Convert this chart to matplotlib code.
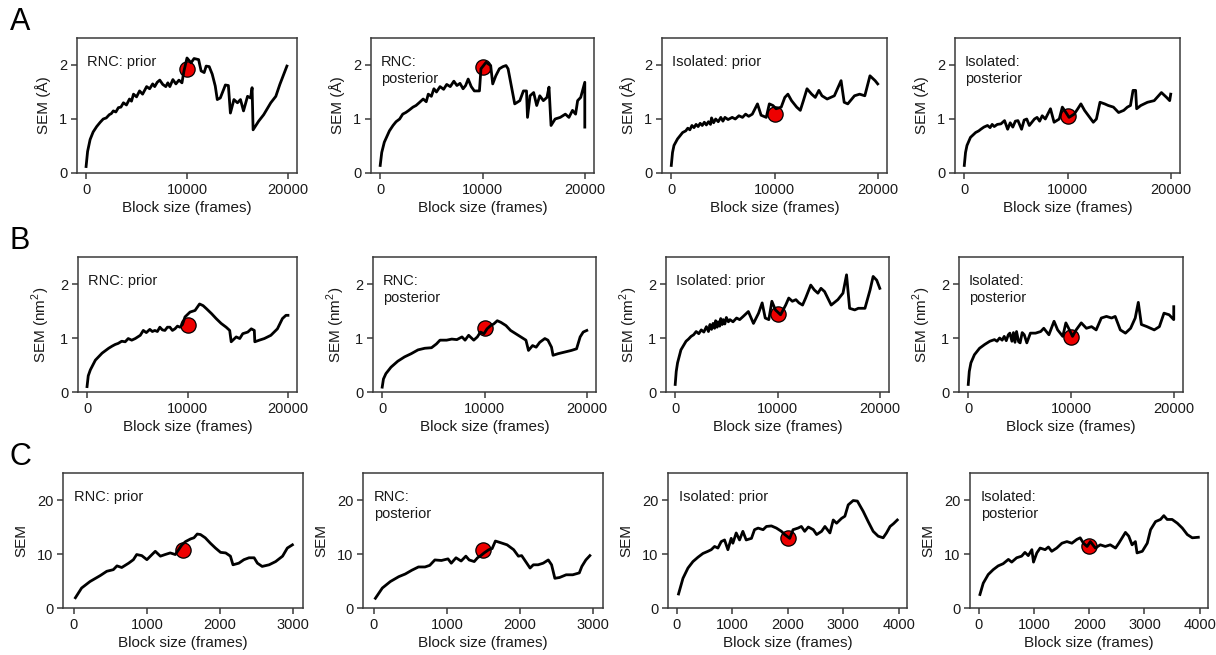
import matplotlib
matplotlib.use('Agg')
import matplotlib.pyplot as plt

plt.rcParams['font.family'] = ['Liberation Sans', 'DejaVu Sans']
plt.rcParams['mathtext.fontset'] = 'custom'
plt.rcParams['mathtext.rm'] = 'Liberation Sans'

# ---------------------------------------------------------------
# data (block size, SEM)
a1_x = [0, 150, 400, 700, 1050, 1400, 1700, 2000, 2300, 2500, 2700, 2950, 3200, 3450, 3700, 4000, 4300,
        4500, 4700, 5000, 5300, 5600, 6000, 6300, 6600, 6800, 7050, 7300, 7600, 7900, 8100, 8300, 8600,
        8900, 9200, 9500, 9700, 10000, 10400, 10700, 11150, 11400, 11700, 11900,
        12200, 12500, 12800, 13000, 13300, 13700, 13800, 14100, 14300, 14650, 15000, 15300, 15600,
        16000, 16300, 16450, 16550, 17100, 17600, 18300, 18800, 19200, 19900]
a1_y = [0.12, 0.4, 0.62, 0.76, 0.86, 0.94, 1.0, 1.02, 1.08, 1.1, 1.15, 1.13, 1.21, 1.22, 1.3, 1.26, 1.37,
        1.33, 1.46, 1.41, 1.52, 1.46, 1.6, 1.56, 1.65, 1.6, 1.68, 1.72, 1.64, 1.6, 1.67, 1.6, 1.73,
        1.65, 1.72, 1.67, 1.89, 2.13, 2.04, 2.12, 2.1, 1.89, 1.86, 1.98,
        1.97, 1.83, 1.61, 1.36, 1.39, 1.58, 1.63, 1.62, 1.11, 1.36, 1.3, 1.36, 1.15,
        1.42, 1.39, 1.58, 0.8, 0.96, 1.08, 1.3, 1.42, 1.64, 1.98]

a2_x = [0, 150, 400, 900, 1250, 1550, 1900, 2200, 2500, 2800, 3200, 3500, 3800, 4200, 4500, 4700,
        5000, 5250, 5500, 5850, 6200, 6500, 6850, 7200, 7500, 7800, 8100, 8350, 8600, 8900, 9200,
        9700, 9850, 10350, 10800, 11000, 11300, 11650, 12000, 12300, 12500, 12750, 13150, 13650,
        14000, 14300, 14400, 14650, 15000, 15300, 15600, 15950, 16300, 16500, 16700, 17100, 17600,
        18100, 18450, 18800, 19100, 19300, 19600, 20000, 20000]
a2_y = [0.14, 0.38, 0.57, 0.78, 0.88, 0.95, 1.0, 1.09, 1.12, 1.16, 1.22, 1.25, 1.3, 1.37, 1.32, 1.46,
        1.42, 1.56, 1.5, 1.6, 1.55, 1.64, 1.6, 1.7, 1.62, 1.66, 1.56, 1.62, 1.74, 1.6, 1.52,
        1.52, 1.93, 2.05, 1.99, 1.65, 1.8, 1.93, 1.97, 1.99, 1.93, 1.68, 1.28, 1.34,
        1.52, 1.52, 1.03, 1.43, 1.49, 1.25, 1.43, 1.34, 1.4, 1.59, 0.88, 1.0, 1.03,
        1.09, 1.03, 1.16, 1.09, 1.34, 1.4, 1.68, 0.85]

a3_x = [0, 120, 260, 600, 1100, 1400, 1600, 1800, 2000, 2200, 2400, 2600, 2800, 3000, 3200, 3400, 3600,
        3800, 3900, 4100, 4300, 4550, 4800, 5000, 5200, 5500, 5900, 6200, 6550, 6900, 7200, 7500, 7850,
        8350, 8700, 9200, 9500, 9850, 10150, 10650, 11000, 11300, 11650, 12150, 12500, 12800, 13150,
        13600, 13950, 14300, 14600, 15100, 15800, 16100, 16450, 16750, 17100, 17750, 18250, 18750,
        19250, 19750, 20000]
a3_y = [0.14, 0.38, 0.51, 0.63, 0.75, 0.78, 0.83, 0.8, 0.88, 0.84, 0.9, 0.86, 0.92, 0.88, 0.94, 0.89, 0.95,
        0.9, 1.02, 0.93, 1.0, 0.95, 1.03, 0.96, 1.03, 0.99, 1.03, 1.0, 1.06, 1.03, 1.09, 1.05, 1.09,
        1.28, 1.07, 1.03, 1.28, 1.25, 1.19, 1.22, 1.4, 1.46, 1.34, 1.22, 1.16, 1.34, 1.56,
        1.46, 1.4, 1.53, 1.43, 1.37, 1.43, 1.56, 1.71, 1.31, 1.28, 1.43, 1.46, 1.43,
        1.8, 1.71, 1.65]

a4_x = [0, 120, 260, 600, 1100, 1400, 1600, 1900, 2250, 2500, 2700, 2900, 3200, 3550, 3900, 4200,
        4450, 4700, 4950, 5200, 5550, 5800, 6050, 6300, 6550, 6800, 7050, 7300, 7550, 7850,
        8350, 8700, 9200, 9500, 9850, 10150, 10650, 11000, 11300, 11650, 12150, 12500,
        12800, 13150, 13600, 13950, 14450, 14950, 15450, 15800, 16100, 16350, 16600, 16700, 17100,
        17750, 18400, 19100, 19600, 19900, 20000]
a4_y = [0.14, 0.38, 0.51, 0.66, 0.75, 0.78, 0.81, 0.85, 0.88, 0.84, 0.9, 0.86, 0.9, 0.91, 0.97, 0.81,
        0.93, 0.85, 0.96, 0.97, 0.81, 0.98, 1.0, 0.88, 0.94, 1.0, 1.03, 0.96, 1.06, 1.0,
        1.19, 0.94, 1.0, 1.22, 1.12, 1.03, 1.09, 1.19, 1.28, 1.16, 1.03, 0.94,
        1.0, 1.31, 1.28, 1.25, 1.22, 1.12, 1.16, 1.22, 1.25, 1.53, 1.53, 1.19, 1.25,
        1.31, 1.34, 1.49, 1.4, 1.34, 1.46]

b1_x = [0, 120, 330, 830, 1500, 2150, 2500, 2800, 3100, 3450, 3800, 4100, 4450, 4800, 5300, 5600,
        5900, 6250, 6500, 6750, 7000, 7250, 7500, 7750, 8000, 8250, 8500, 8750, 9000, 9250, 9500, 9750,
        10250, 10750, 11200, 11550, 11900, 12400, 12850, 13350, 13850, 14200, 14350,
        14850, 15200, 15500, 16000, 16350, 16650, 16700, 17150, 17650, 18300, 18950, 19450, 19800, 20000]
b1_y = [0.1, 0.3, 0.41, 0.59, 0.72, 0.81, 0.85, 0.88, 0.9, 0.94, 0.93, 0.99, 0.96, 0.99, 1.05, 1.14,
        1.1, 1.16, 1.12, 1.14, 1.12, 1.2, 1.15, 1.14, 1.2, 1.2, 1.14, 1.17, 1.22, 1.2, 1.25, 1.39,
        1.48, 1.51, 1.63, 1.6, 1.54, 1.45, 1.36, 1.27, 1.2, 1.14, 0.93,
        1.02, 0.99, 1.08, 1.11, 1.17, 1.14, 0.93, 0.96, 0.99, 1.05, 1.17, 1.36, 1.42, 1.42]

b2_x = [0, 120, 360, 860, 1520, 2180, 2840, 3500, 4160, 4820, 5300, 5650, 6300, 6800, 7300, 7800, 8100,
        8450, 8950, 9300, 9600, 9950, 10250, 10600, 10900, 11250, 11600, 12100, 12550, 13050, 13550,
        14050, 14300, 14700, 15050, 15400, 15900, 16200, 16550, 16700, 17200, 17850, 18500, 19000,
        19350, 19650, 20000]
b2_y = [0.09, 0.24, 0.34, 0.46, 0.57, 0.65, 0.71, 0.78, 0.81, 0.82, 0.89, 0.96, 0.96, 0.98, 0.97, 1.02, 0.96,
        1.05, 0.96, 1.02, 1.11, 1.08, 1.17, 1.23, 1.26, 1.32, 1.29, 1.23, 1.14, 1.08, 1.02,
        0.96, 0.77, 0.86, 0.83, 0.92, 0.99, 0.96, 0.83, 0.68, 0.71, 0.74, 0.77, 0.8,
        1.02, 1.11, 1.14]

b3_x = [0, 100, 230, 560, 1060, 1300, 1550, 1800, 2050, 2300, 2550, 2800, 3050, 3250, 3400, 3550, 3700,
        3850, 3950, 4100, 4200, 4350, 4450, 4600, 4700, 4850, 5000, 5200, 5350, 5650,
        6000, 6300, 6650, 7150, 7650, 8150, 8500, 8800, 9150, 9450, 9800, 10300, 10800, 11100, 11450,
        11800, 12100, 12450, 12750, 13250, 13600, 13950, 14250, 14600, 15250, 15900, 16400, 16750,
        17050, 17550, 17900, 18550, 19050, 19350, 19700, 20000]
b3_y = [0.14, 0.38, 0.54, 0.78, 0.94, 0.98, 1.03, 1.06, 1.12, 1.08, 1.15, 1.11, 1.21, 1.12, 1.25, 1.16,
        1.27, 1.18, 1.32, 1.2, 1.3, 1.22, 1.36, 1.25, 1.34, 1.26, 1.38, 1.3, 1.34, 1.3,
        1.37, 1.34, 1.4, 1.49, 1.27, 1.46, 1.65, 1.37, 1.34, 1.68, 1.52, 1.43, 1.61, 1.74, 1.68,
        1.71, 1.65, 1.61, 1.74, 1.98, 1.89, 1.83, 1.92, 1.86, 1.61, 1.71, 1.83, 2.17,
        1.55, 1.52, 1.55, 1.55, 1.89, 2.14, 2.07, 1.92]

b4_x = [0, 100, 260, 600, 1100, 1600, 2100, 2550, 2800, 3050, 3300, 3500, 3700, 3900, 4050, 4250, 4400,
        4550, 4700, 4900, 5050, 5250, 5450, 5700, 6050,
        6550, 7050, 7350, 7850, 8350, 8700, 9200, 9500, 9850, 10150, 10500, 11000, 11500, 12000,
        12450, 12950, 13450, 13950, 14300, 14800, 15300, 15800, 16250, 16550, 16850, 17400, 18100,
        18600, 19050, 19550, 20000, 20000]
b4_y = [0.14, 0.38, 0.54, 0.69, 0.81, 0.88, 0.94, 0.97, 0.94, 1.0, 0.96, 1.03, 0.95, 1.06, 1.09, 0.94, 1.1,
        0.92, 1.12, 0.93, 0.91, 1.1, 1.06, 0.91, 1.09,
        1.09, 1.12, 1.18, 1.06, 1.31, 1.15, 1.03, 1.28, 1.15, 1.03, 1.15, 1.28, 1.18, 1.21,
        1.15, 1.37, 1.4, 1.37, 1.4, 1.15, 1.09, 1.18, 1.37, 1.66, 1.25, 1.21, 1.15,
        1.21, 1.46, 1.43, 1.34, 1.58]

c1_x = [20, 105, 220, 360, 450, 540, 590, 655, 750, 815, 860, 930, 1000, 1070, 1115, 1185, 1250, 1320,
        1390, 1435, 1480, 1530, 1600, 1645, 1690, 1735, 1800, 1870, 1940, 2010, 2080, 2145, 2180, 2260,
        2330, 2400, 2470, 2515, 2580, 2675, 2765, 2860, 2925, 2995]
c1_y = [1.9, 3.7, 4.9, 6.0, 6.8, 7.1, 7.8, 7.5, 8.3, 8.95, 9.9, 9.7, 8.95, 9.9, 10.5, 9.6, 9.9, 10.2,
        9.9, 10.8, 11.7, 12.3, 12.8, 13.0, 13.7, 13.6, 13.0, 12.0, 11.1, 10.3, 10.2, 9.6, 8.0, 8.3,
        8.95, 9.3, 9.3, 8.3, 7.7, 8.0, 8.6, 9.6, 11.1, 11.7]

c2_x = [20, 115, 225, 340, 430, 520, 610, 700, 765, 835, 925, 1015, 1060, 1125, 1195, 1260, 1305, 1375,
        1420, 1465, 1510, 1575, 1620, 1665, 1735, 1825, 1915, 1980, 2025, 2095, 2140, 2185, 2250, 2320,
        2390, 2435, 2480, 2545, 2635, 2725, 2815, 2850, 2905, 2960]
c2_y = [1.8, 3.7, 4.9, 5.8, 6.3, 7.0, 7.6, 7.6, 7.9, 8.9, 8.8, 9.1, 8.3, 9.3, 8.7, 9.6, 8.9, 8.6,
        9.3, 9.7, 10.2, 10.8, 11.0, 12.4, 12.1, 11.7, 10.8, 9.6, 9.7, 8.3, 7.4, 8.0, 8.0, 8.3,
        8.9, 8.0, 5.5, 5.65, 6.15, 6.15, 6.5, 7.7, 8.9, 9.7]

c3_x = [30, 110, 200, 290, 380, 470, 560, 620, 680, 740, 800, 860, 920, 980, 1010, 1070, 1130, 1190,
        1250, 1345, 1400, 1465, 1555, 1615, 1705, 1795, 1885, 1945, 2035, 2095, 2185, 2245, 2305, 2370,
        2460, 2520, 2610, 2670, 2760, 2820, 2880, 2970, 3030, 3090, 3180, 3255, 3360, 3450, 3540, 3630,
        3720, 3780, 3845, 3905, 3975]
c3_y = [2.6, 5.5, 7.4, 8.6, 9.4, 10.1, 10.5, 10.8, 11.4, 11.1, 12.3, 12.6, 10.8, 12.9, 12.0, 13.9, 12.6, 14.2,
        12.6, 12.9, 14.5, 14.8, 14.5, 15.1, 15.2, 14.8, 14.2, 13.6, 12.9, 14.5, 14.8, 15.1, 14.2, 15.0,
        14.5, 13.6, 14.2, 15.1, 13.9, 16.3, 15.7, 16.6, 17.0, 19.1, 19.9, 19.8, 17.9, 16.0, 14.2, 13.3,
        13.0, 13.9, 15.1, 15.6, 16.3]

c4_x = [20, 80, 170, 260, 350, 440, 535, 595, 685, 775, 835, 895, 960, 990, 1050, 1110, 1200, 1260,
        1320, 1410, 1505, 1595, 1685, 1775, 1835, 1895, 1960, 2020, 2110, 2200, 2290, 2380, 2475, 2535,
        2595, 2655, 2715, 2775, 2835, 2865, 2960, 3050, 3110, 3200, 3290, 3350, 3410, 3500, 3595, 3685,
        3775, 3865, 3975]
c4_y = [2.5, 4.6, 6.2, 7.1, 7.8, 8.2, 9.0, 8.5, 9.3, 9.6, 10.3, 9.7, 10.8, 8.5, 10.2, 11.1, 10.8, 11.3,
        10.5, 11.1, 12.0, 12.3, 12.0, 12.7, 13.0, 12.0, 11.4, 12.3, 11.1, 11.7, 11.4, 11.7, 11.1, 12.0,
        13.0, 14.0, 13.3, 11.7, 12.3, 10.2, 10.5, 12.0, 14.5, 16.0, 16.4, 17.1, 16.4, 16.4, 15.7, 14.8,
        13.6, 13.0, 13.1]

# chosen block size marked with the red circle
pick_x = [10000, 10000, 10000, 10000, 10000, 10000, 10000, 10000, 1500, 1500, 2000, 2000]
pick_y = [1.92, 1.97, 1.1, 1.05, 1.25, 1.19, 1.45, 1.02, 10.8, 10.8, 12.9, 11.4]

titles = ['RNC: prior', 'RNC:\nposterior', 'Isolated: prior', 'Isolated:\nposterior']
ylabels = ['SEM (Å)', 'SEM (nm$^2$)', 'SEM']
series = [(a1_x, a1_y), (a2_x, a2_y), (a3_x, a3_y), (a4_x, a4_y),
          (b1_x, b1_y), (b2_x, b2_y), (b3_x, b3_y), (b4_x, b4_y),
          (c1_x, c1_y), (c2_x, c2_y), (c3_x, c3_y), (c4_x, c4_y)]

# ---------------------------------------------------------------
W, H = 1216, 655
fig = plt.figure(figsize=(W / 100.0, H / 100.0), dpi=100)

# axes boxes in pixels: (left, right) per column, (top, bottom) per row
cols = [[(77, 297), (371, 594), (662, 887), (955, 1180)],
        [(78, 297), (373, 596), (666, 889), (959, 1183)],
        [(63, 303), (363, 603), (668, 907), (970, 1208)]]
rows = [(38, 173), (257, 392), (473, 608)]

spine_col = '#3a3a3a'

for r in range(3):
    for c in range(4):
        i = r * 4 + c
        l, rr = cols[r][c]
        t, b = rows[r]
        ax = fig.add_axes([l / W, (H - b) / H, (rr - l) / W, (b - t) / H])
        xs, ys = series[i]
        ax.plot(pick_x[i], pick_y[i], 'o', ms=11, mfc='#ee0000', mec='black',
                mew=0.9, zorder=2)
        ax.plot(xs, ys, color='black', lw=2.0, zorder=3, solid_joinstyle='round')

        if r < 2:
            ax.set_xlim(-900, 20900)
            ax.set_xticks([0, 10000, 20000])
            ax.set_ylim(0, 2.5)
            ax.set_yticks([0, 1, 2])
        else:
            if c < 2:
                ax.set_xlim(-150, 3140)
                ax.set_xticks([0, 1000, 2000, 3000])
            else:
                ax.set_xlim(-160, 4150)
                ax.set_xticks([0, 1000, 2000, 3000, 4000])
            ax.set_ylim(0, 25)
            ax.set_yticks([0, 10, 20])

        for s in ax.spines.values():
            s.set_color(spine_col)
            s.set_linewidth(1.1)
        ax.tick_params(direction='out', length=4, width=1.1, color=spine_col,
                       labelsize=10.5, labelcolor='#1a1a1a', pad=3)
        ax.set_xlabel('Block size (frames)', fontsize=11, color='#1a1a1a', labelpad=3)
        ax.set_ylabel(ylabels[r], fontsize=11, color='#1a1a1a', labelpad=6)
        ax.text(0.045, 0.875, titles[c], transform=ax.transAxes, fontsize=10.5,
                va='top', ha='left', color='#1a1a1a', linespacing=1.3)

for lab, y in zip(['A', 'B', 'C'], [0.99, 0.655, 0.325]):
    fig.text(0.008, y, lab, fontsize=22, va='top', ha='left')

fig.savefig('out.png', dpi=100)
